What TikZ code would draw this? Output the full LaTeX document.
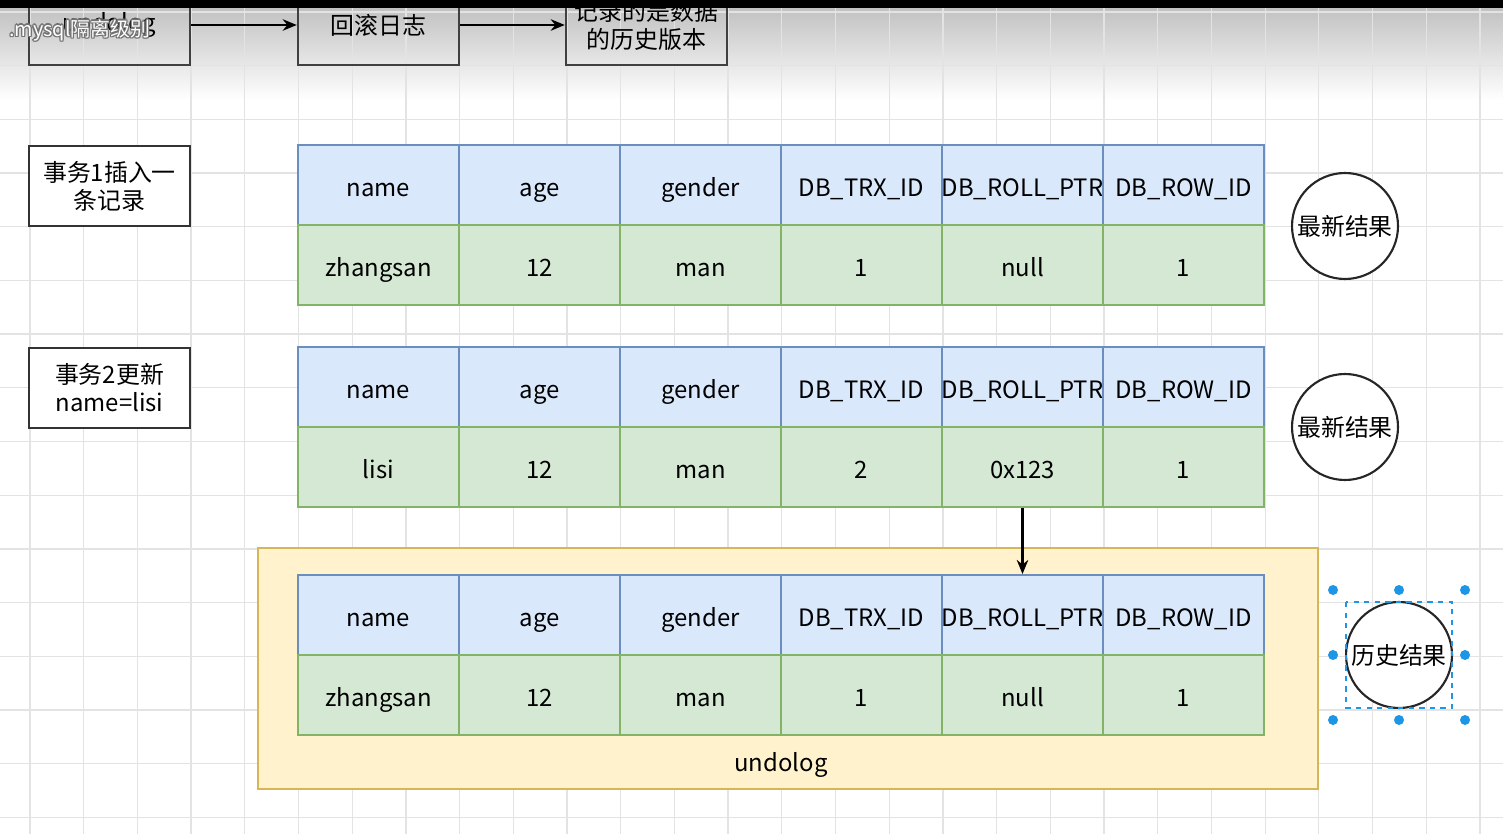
\documentclass[tikz,border=0pt]{standalone}
\usepackage{fontspec}
\setmainfont{Noto Sans CJK SC}
\usepackage{tikz}
\usetikzlibrary{arrows.meta}
\definecolor{headblue}{HTML}{DAE8FC}
\definecolor{headline}{HTML}{6C8EBF}
\definecolor{rowgreen}{HTML}{D5E8D4}
\definecolor{rowline}{HTML}{82B366}
\definecolor{logyellow}{HTML}{FFF2CC}
\definecolor{logline}{HTML}{D6B656}
\definecolor{gridgray}{gray}{0.89}
\definecolor{handleblue}{RGB}{30, 150, 230}

\begin{document}
\begin{tikzpicture}[x=0.02cm, y=-0.02cm,
  every node/.style={font=\fontsize{13.6}{16}\selectfont},
  headcell/.style={draw=headline, fill=headblue, line width=1.1pt, minimum width=3.22cm, minimum height=1.6cm, inner sep=0pt, text height=14pt, text depth=0.5pt},
  rowcell/.style={draw=rowline, fill=rowgreen, line width=1.1pt, minimum width=3.22cm, minimum height=1.6cm, inner sep=0pt, text height=14pt, text depth=0.5pt},
  txbox/.style={draw=black!80, fill=white, line width=1.4pt, minimum width=3.22cm, minimum height=1.6cm, align=center, inner sep=0pt},
  topbox/.style={draw=black!75, line width=1.4pt, minimum width=3.22cm, minimum height=1.6cm, align=center, inner sep=0pt},
  result/.style={circle, draw=black!85, fill=white, line width=1.2pt, minimum size=2.12cm, inner sep=0pt},
  link/.style={-{Stealth[length=8pt, width=6.5pt]}, line width=1.5pt}]

  \useasboundingbox (0, 0) rectangle (1503, 834);
  \clip (0, 0) rectangle (1503, 834);
  \fill[white] (0, 0) rectangle (1503, 834);
  \shade[top color=black!24, bottom color=white] (0, 8) rectangle (1503, 100);

  \foreach \k in {-1, ..., 28} {
    \draw[gridgray, line width=0.7pt] ({30 + 53.7 * \k}, 8) -- ({30 + 53.7 * \k}, 834);
  }
  \foreach \k in {0, ..., 15} {
    \draw[gridgray, line width=0.7pt] (0, {11.9 + 53.7 * \k}) -- (1503, {11.9 + 53.7 * \k});
  }

  \node[topbox] (undo) at (109.5, 25) {undolog};
  \node[topbox] (rollback) at (378.5, 25) {回滚日志};
  \node[topbox] (history) at (646.5, 25) {记录的是数据\\的历史版本};
  \draw[link] (undo) -- (rollback);
  \draw[link] (rollback) -- (history);

  \node[txbox] (tx1) at (109.5, 186) {事务1插入一\\条记录};
  \node[txbox] (tx2) at (109.5, 388) {事务2更新\\name=lisi};

  \node[draw=logline, fill=logyellow, line width=1.1pt, minimum width=21.2cm, minimum height=4.82cm] (undolog) at (788, 668.5) {};
  \node (undolabel) at (781, 765) {undolog};

  \foreach \t/\y in {a/185, b/387, c/615} {
    \foreach \h [count=\i] in {name, age, gender, DB\_TRX\_ID, DB\_ROLL\_PTR, DB\_ROW\_ID} {
      \node[headcell] (\t h\i) at ({378.5 + 161 * (\i - 1)}, \y) {\h};
    }
  }
  \foreach \v [count=\i] in {zhangsan, 12, man, 1, null, 1} {
    \node[rowcell] (ad\i) at ({378.5 + 161 * (\i - 1)}, 265) {\v};
  }
  \foreach \v [count=\i] in {lisi, 12, man, 2, 0x123, 1} {
    \node[rowcell] (bd\i) at ({378.5 + 161 * (\i - 1)}, 467) {\v};
  }
  \foreach \v [count=\i] in {zhangsan, 12, man, 1, null, 1} {
    \node[rowcell] (cd\i) at ({378.5 + 161 * (\i - 1)}, 695) {\v};
  }

  \draw[link] (bd5.south) -- (ch5.north);

  \node[result] (latest1) at (1345, 226) {最新结果};
  \node[result] (latest2) at (1345, 427) {最新结果};
  \node[result] (past) at (1399, 655) {历史结果};

  \draw[handleblue, dashed, line width=0.6pt] (1346, 602) rectangle (1452, 708);
  \foreach \hx/\hy in {1333/590, 1399/590, 1465/590, 1333/655, 1465/655, 1333/720, 1399/720, 1465/720} {
    \fill[handleblue] (\hx, \hy) circle (0.1cm);
  }

  \fill[black] (0, 0) rectangle (1503, 8);
  \foreach \dx/\dy [count=\s] in {-1.2/0, 1.2/0, 0/-1.2, 0/1.2, 1/1, -1/-1, 1/-1, -1/1} {
    \node[anchor=west, text=black!55, font=\fontsize{11.3}{13}\selectfont] (shadow\s) at ({3 + \dx}, {30 + \dy}) {.mysql隔离级别};
  }
  \node[anchor=west, text=white, font=\fontsize{11.3}{13}\selectfont] (title) at (3, 30) {.mysql隔离级别};

\end{tikzpicture}
\end{document}
